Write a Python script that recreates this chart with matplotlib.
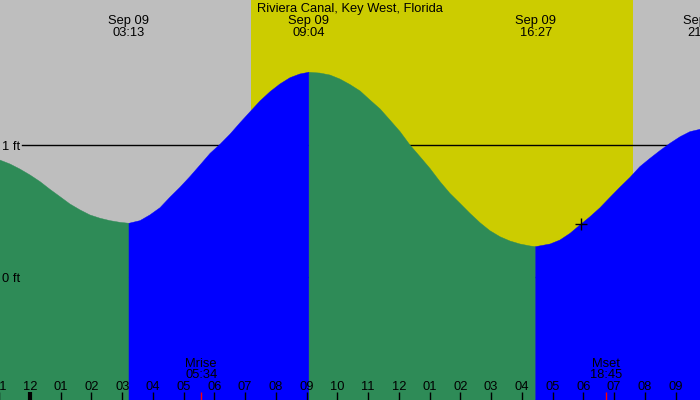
import numpy as np
import matplotlib
matplotlib.use("Agg")
import matplotlib.pyplot as plt

# =========================================================
# DATA
# =========================================================
STATION = "Riviera Canal, Key West, Florida"
DATE_LABEL = "Sep 09"

# tide curve samples: hours since midnight Sep 09, height in ft
tide_hours = [-0.98, -0.65, -0.33, 0.00, 0.33, 0.65, 0.98, 1.30, 1.63, 1.95,
              2.28, 2.60, 2.93, 3.22, 3.58, 3.90, 4.23, 4.55, 4.88, 5.20,
              5.53, 5.86, 6.18, 6.51, 6.83, 7.16, 7.48, 7.81, 8.13, 8.46,
              8.78, 9.07, 9.43, 9.76, 10.08, 10.41, 10.74, 11.06, 11.39, 11.71,
              12.04, 12.36, 12.69, 13.01, 13.34, 13.66, 13.99, 14.31, 14.64, 14.96,
              15.29, 15.61, 15.94, 16.27, 16.45, 16.92, 17.24, 17.57, 17.89, 18.22,
              18.54, 18.87, 19.19, 19.52, 19.84, 20.17, 20.49, 20.82, 21.15, 21.47,
              21.80]
tide_ft = [0.886, 0.856, 0.818, 0.773, 0.722, 0.664, 0.608, 0.553, 0.508, 0.470,
           0.445, 0.427, 0.414, 0.407, 0.427, 0.470, 0.525, 0.604, 0.680, 0.760,
           0.848, 0.937, 1.005, 1.083, 1.168, 1.252, 1.333, 1.404, 1.462, 1.510,
           1.538, 1.551, 1.545, 1.530, 1.500, 1.458, 1.409, 1.341, 1.273, 1.189,
           1.101, 1.000, 0.911, 0.823, 0.722, 0.634, 0.558, 0.483, 0.411, 0.351,
           0.305, 0.273, 0.250, 0.235, 0.230, 0.250, 0.280, 0.331, 0.394, 0.457,
           0.524, 0.604, 0.680, 0.755, 0.836, 0.899, 0.957, 1.013, 1.063, 1.101,
           1.119]

# high / low events
event_hours = [3.22, 9.07, 16.45, 21.90]
event_labels = ["03:13", "09:04", "16:27", "21:54"]

# sun and moon
sunrise_h = 7.19
sunset_h = 19.62
moon_hours = [5.57, 18.75]
moon_names = ["Mrise", "Mset"]
moon_times = ["05:34", "18:45"]

# current time marker
now_h = 17.92
now_ft = 0.40

# hour ticks
tick_hours = list(range(-1, 22))
tick_labels = ["11", "12", "01", "02", "03", "04", "05", "06", "07", "08", "09",
               "10", "11", "12", "01", "02", "03", "04", "05", "06", "07", "08",
               "09"]

ft_levels = [0, 1]

# =========================================================
# STYLE
# =========================================================
NIGHT = "#bebebe"
DAY = "#cccc00"
FALLING = "#2e8b57"
RISING = "#0000ff"
FONT = "Liberation Sans"
FS = 9.3

PX_PER_H = 30.74
X0_PX = 30.0     # pixel of midnight
Y0_PX = 277.0    # pixel of 0 ft
PX_PER_FT = 132.0


def ay(px):
    # pixel row -> axes fraction
    return 1.0 - px / 400.0


def hx(px):
    # pixel column -> hours
    return (px - X0_PX) / PX_PER_H


# =========================================================
# PLOT
# =========================================================
fig = plt.figure(figsize=(7, 4), dpi=100)
ax = fig.add_axes([0, 0, 1, 1])
ax.set_xlim(hx(0), hx(700))
ax.set_ylim((Y0_PX - 400) / PX_PER_FT, Y0_PX / PX_PER_FT)
ax.axis("off")

ax.axvspan(hx(0), hx(700), color=NIGHT, lw=0, zorder=0)
ax.axvspan(sunrise_h, sunset_h, color=DAY, lw=0, zorder=0.5)

# ft reference lines (behind the water)
for lev in ft_levels:
    ax.plot([hx(22), hx(700)], [lev, lev], color="black", lw=1, zorder=1)

t = np.array(tide_hours)
h = np.array(tide_ft)
low1, high1, low2 = event_hours[0], event_hours[1], event_hours[2]
rising = ((t >= low1) & (t <= high1)) | (t >= low2)
falling = (t <= low1) | ((t >= high1) & (t <= low2))
bottom = ax.get_ylim()[0]
ax.fill_between(t, h, bottom, where=falling, color=FALLING, lw=0.3, zorder=2)
ax.fill_between(t, h, bottom, where=rising, color=RISING, lw=0.3, zorder=2)

# level labels
for lev in ft_levels:
    ax.text(hx(2), lev - 4.5 / PX_PER_FT, f"{lev} ft",
            ha="left", va="baseline", fontsize=FS, family=FONT, zorder=5)

# title and event labels
xt = ax.get_xaxis_transform()
ax.text(0.5, ay(11.7), STATION, transform=ax.transAxes, ha="center",
        va="baseline", fontsize=FS, family=FONT, zorder=5)
for eh, el in zip(event_hours, event_labels):
    ax.text(eh, ay(24), DATE_LABEL, transform=xt, ha="center", va="baseline",
            fontsize=FS, family=FONT, zorder=5)
    ax.text(eh, ay(36), el, transform=xt, ha="center", va="baseline",
            fontsize=FS, family=FONT, zorder=5)

# hour ticks
for th, tl in zip(tick_hours, tick_labels):
    lw = 3 if th == 0 else 1
    ax.plot([th, th], [ay(400), ay(392)], transform=xt, color="black", lw=lw,
            solid_capstyle="butt", zorder=5)
    ax.text(th, ay(390), tl, transform=xt, ha="center", va="baseline",
            fontsize=FS, family=FONT, zorder=5)

# moon
for mh, mn, mt in zip(moon_hours, moon_names, moon_times):
    ax.plot([mh, mh], [ay(400), ay(392)], transform=xt, color="red", lw=1,
            solid_capstyle="butt", zorder=5)
    ax.text(mh, ay(366.7), mn, transform=xt, ha="center", va="baseline",
            fontsize=FS, family=FONT, zorder=5)
    ax.text(mh, ay(378.3), mt, transform=xt, ha="center", va="baseline",
            fontsize=FS, family=FONT, zorder=5)

ax.plot([now_h], [now_ft], marker="+", color="black", ms=8, mew=1, zorder=6)

fig.savefig("out.png", dpi=100)
